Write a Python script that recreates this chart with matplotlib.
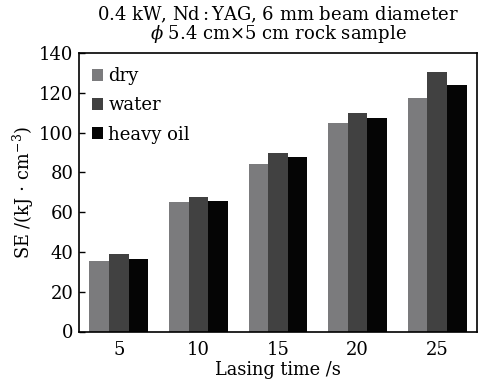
import numpy as np
import matplotlib
matplotlib.use("Agg")
import matplotlib.pyplot as plt

plt.rcParams['font.family'] = ['DejaVu Serif']
plt.rcParams['mathtext.fontset'] = 'dejavuserif'

times = ['5', '10', '15', '20', '25']
dry = [35.2, 65.1, 84.1, 104.7, 117.5]
water = [38.8, 67.8, 89.6, 109.9, 130.7]
heavy_oil = [36.3, 65.8, 87.8, 107.4, 124.0]

labels = ['dry', 'water', 'heavy oil']
colors = ['#7b7b7d', '#414141', '#050505']

fig = plt.figure(figsize=(4.85, 3.84), dpi=100)
ax = fig.add_axes([79 / 485, 1 - 331.5 / 384, 398 / 485, 278.5 / 384])

x = np.arange(len(times))
w = 0.246
for k, (vals, lab, c) in enumerate(zip([dry, water, heavy_oil], labels, colors)):
    ax.bar(x + (k - 1) * w, vals, width=w, color=c, label=lab)

ax.set_xlim(-0.5, 4.5)
ax.set_ylim(0, 140)
ax.set_yticks(range(0, 141, 20))
ax.set_xticks(x)
ax.set_xticklabels(times)
ax.tick_params(axis='y', direction='in', length=4, width=1, labelsize=13, pad=4)
ax.tick_params(axis='x', length=0, labelsize=13, pad=7)
for s in ax.spines.values():
    s.set_linewidth(1.2)

ax.set_xlabel('Lasing time /s', fontsize=12.8, labelpad=1)
ax.set_ylabel('SE /(kJ$\\,\\cdot\\,$cm$^{-3}$)', fontsize=12.8, labelpad=2)
ax.set_title('0.4 kW, Nd$\\,$:$\\,$YAG, 6 mm beam diameter\n'
             '$\\phi$ 5.4 cm$\\times$5 cm rock sample',
             fontsize=13, linespacing=0.9, pad=10)

ax.legend(loc='upper left', frameon=False, fontsize=13, handlelength=0.6,
          handleheight=0.65, handletextpad=0.3, labelspacing=0.62,
          borderaxespad=0.0, bbox_to_anchor=(0.015, 0.975))

fig.savefig('out.png', dpi=100)
